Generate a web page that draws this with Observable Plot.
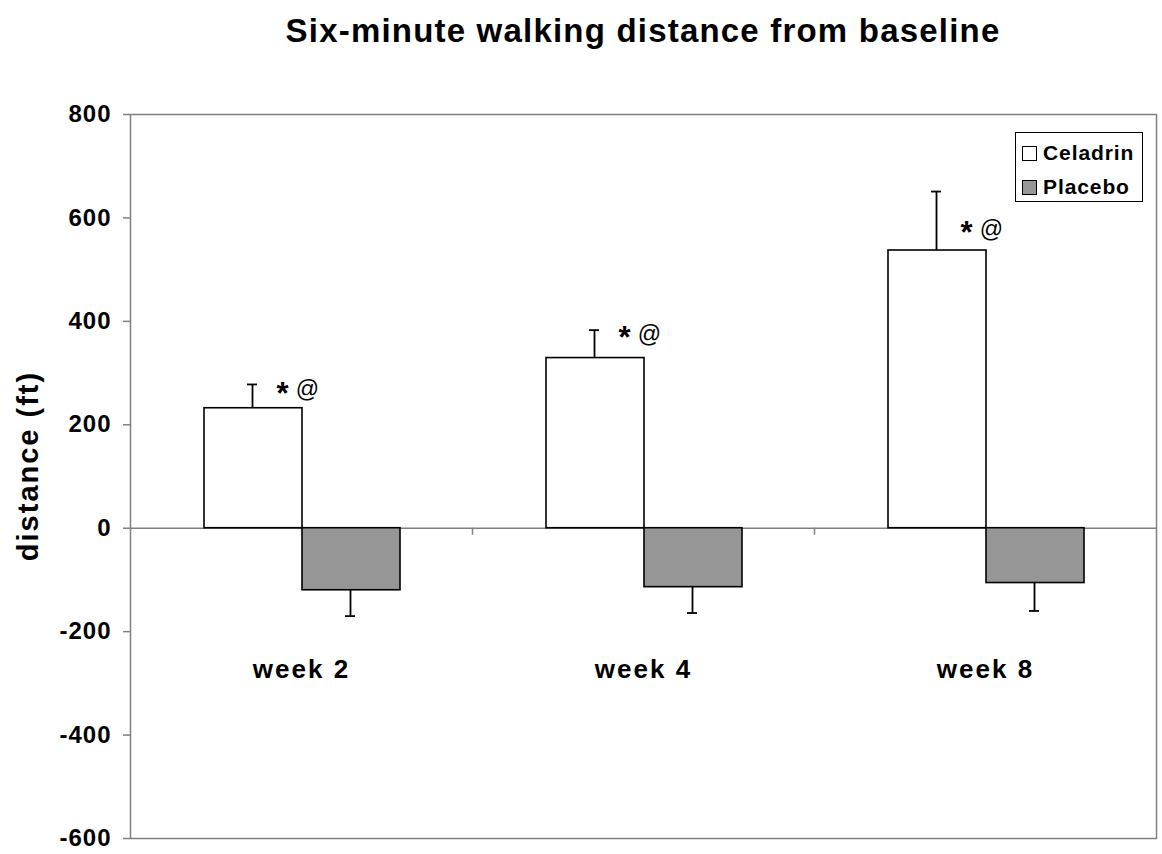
<!DOCTYPE html>
<html>
<head>
<meta charset="utf-8">
<script src="https://cdn.jsdelivr.net/npm/d3@7"></script>
<script src="https://cdn.jsdelivr.net/npm/@observablehq/plot@0.6"></script>
<style>
  body { margin: 0; background: #fff; font-family: "Liberation Sans", Arial, sans-serif; }
  #wrap { position: relative; width: 1162px; height: 854px; overflow: hidden; }
  #title { position: absolute; left: 130px; width: 1026px; top: 12px; text-align: center;
           font-weight: bold; font-size: 33px; letter-spacing: 1.2px; color: #000; }
  #ylabel { position: absolute; left: 28px; top: 466px; transform: translate(-50%, -50%) rotate(-90deg);
            font-weight: bold; font-size: 29px; letter-spacing: 2px; white-space: nowrap; color: #000; }
  #legend { position: absolute; left: 1015px; top: 132px; width: 128px; height: 70px;
            border: 1px solid #000; background: #fff; box-sizing: border-box; }
  .lg { position: absolute; left: 6px; font-weight: bold; font-size: 21px; letter-spacing: 0.9px; height: 24px; line-height: 24px; white-space: nowrap; }
  .sw { display: inline-block; width: 15px; height: 15px; border: 1px solid #000; vertical-align: -1px; margin-right: 6px; box-sizing: border-box; }
  g[aria-label="y-axis tick label"] text { letter-spacing: 1px; }
  g[aria-label="x-axis tick label"] text { letter-spacing: 2px; }
</style>
</head>
<body>
<div id="wrap">
  <div id="title">Six-minute walking distance from baseline</div>
  <div id="chart"></div>
  <div id="ylabel">distance (ft)</div>
  <div id="legend"></div>
</div>
<script>
const weeks = ["week 2", "week 4", "week 8"];
const series = ["Celadrin", "Placebo"];
const celadrinMean = [232, 329, 537];
const celadrinSD = [46, 54, 114];
const placeboMean = [-120, -114, -106];
const placeboSD = [50, 50, 54];
const yTicks = [-600, -400, -200, 0, 200, 400, 600, 800];
const annotText = ["*", "@"];
const annotY = [268, 375, 578];
const seriesFill = {Celadrin: "#ffffff", Placebo: "#969696"};

const rows = [];
weeks.forEach((w, i) => {
  rows.push({week: w, series: "Celadrin", mean: celadrinMean[i], end: celadrinMean[i] + celadrinSD[i]});
  rows.push({week: w, series: "Placebo", mean: placeboMean[i], end: placeboMean[i] - placeboSD[i]});
});
const cel = rows.filter(d => d.series === "Celadrin");
const pla = rows.filter(d => d.series === "Placebo");
const annots = weeks.map((w, i) => ({week: w, y: annotY[i]}));

const off = 49;
const chart = Plot.plot({
  width: 1162,
  height: 854,
  marginLeft: 130,
  marginRight: 6,
  marginTop: 114,
  marginBottom: 16,
  style: {fontFamily: "'Liberation Sans', Arial, sans-serif", color: "#000", background: "#fff"},
  x: {domain: weeks, padding: 0, axis: null},
  y: {domain: [-600, 800], axis: null},
  marks: [
    Plot.frame({stroke: "#808080", strokeWidth: 1.5}),
    Plot.ruleY([0], {stroke: "#808080", strokeWidth: 1.5}),
    Plot.ruleX(weeks.slice(1), {x: d => d, y1: 0, y2: 0, dx: -171, insetBottom: -7, stroke: "#808080", strokeWidth: 1.5}),
    Plot.barY(cel, {x: "week", y: "mean", fill: seriesFill.Celadrin, stroke: "#000", strokeWidth: 1.6, insetLeft: 74, insetRight: 170}),
    Plot.barY(pla, {x: "week", y: "mean", fill: seriesFill.Placebo, stroke: "#000", strokeWidth: 1.6, insetLeft: 172, insetRight: 72}),
    Plot.ruleX(cel, {x: "week", y1: "mean", y2: "end", dx: -off, stroke: "#000", strokeWidth: 1.8}),
    Plot.ruleX(pla, {x: "week", y1: "mean", y2: "end", dx: off, stroke: "#000", strokeWidth: 1.8}),
    Plot.tickY(cel, {x: "week", y: "end", dx: -off, insetLeft: 166, insetRight: 166, stroke: "#000", strokeWidth: 1.8}),
    Plot.tickY(pla, {x: "week", y: "end", dx: off, insetLeft: 166, insetRight: 166, stroke: "#000", strokeWidth: 1.8}),
    Plot.text(annots, {x: "week", y: "y", text: () => annotText[0], dx: -off + 30, dy: 4, fontSize: 31, fontWeight: "bold", fill: "#000"}),
    Plot.text(annots, {x: "week", y: "y", text: () => annotText[1], dx: -off + 55, fontSize: 23, fill: "#000"}),
    Plot.axisY({ticks: yTicks, tickSize: 7, tickPadding: 12, tickFormat: d => String(d), stroke: "#808080", strokeWidth: 1.5, label: null, fontSize: 24, fontWeight: "bold"}),
    Plot.axisX({anchor: "bottom", tickSize: 0, dy: -188, label: null, fontSize: 26, fontWeight: "bold"})
  ]
});
document.getElementById("chart").appendChild(chart);

const lg = document.getElementById("legend");
series.forEach((s, i) => {
  const e = document.createElement("div");
  e.className = "lg";
  e.style.top = (8 + i * 34) + "px";
  e.innerHTML = `<span class="sw" style="background:${seriesFill[s]}"></span>${s}`;
  lg.appendChild(e);
});
</script>
</body>
</html>
